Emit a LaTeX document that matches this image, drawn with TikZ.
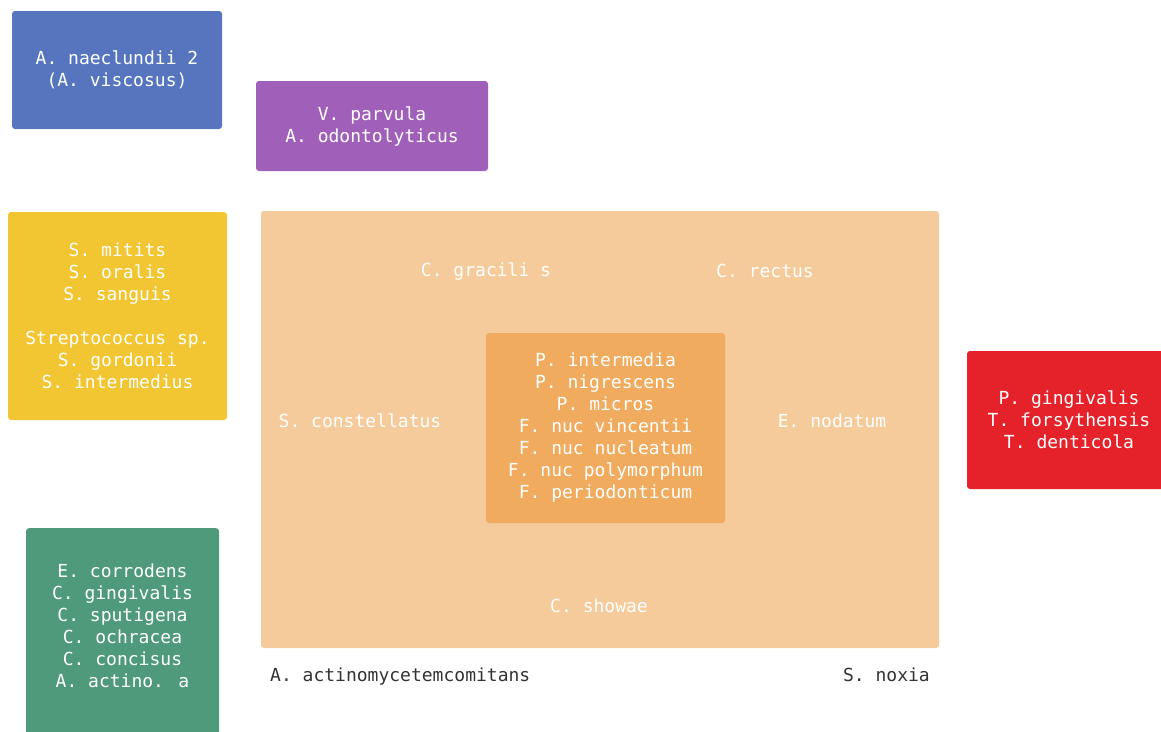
\documentclass[tikz,border=0pt]{standalone}
\usepackage{fontspec}
\newfontfamily\bugfont{DejaVu Sans Mono}
\definecolor{earlyblue}{HTML}{5675BE}
\definecolor{earlypurple}{HTML}{A05FB9}
\definecolor{earlyyellow}{HTML}{F2C632}
\definecolor{earlygreen}{HTML}{4F9A7A}
\definecolor{outerorange}{HTML}{F5CB9C}
\definecolor{innerorange}{HTML}{F0AB5E}
\definecolor{latered}{HTML}{E52229}
\definecolor{freegray}{HTML}{333333}

\begin{document}
\begin{tikzpicture}[x=1pt,y=-1pt,
	box/.style={rounded corners=3pt, align=center, text=white, inner sep=0pt},
	bug/.style={text=white, inner sep=0pt},
	free/.style={text=freegray, inner sep=0pt}]
	\bugfont\fontsize{18}{22}\selectfont
	\useasboundingbox (0,0) rectangle (1161,731);
	\clip (0,0) rectangle (1161,731);

	% early colonisers
	\node[box, fill=earlyblue, minimum width=210pt, minimum height=118pt] (blue) at (117,70) {A. naeclundii 2\\(A. viscosus)};
	\node[box, fill=earlypurple, minimum width=232pt, minimum height=90pt] (purple) at (372,126) {V. parvula\\A. odontolyticus};
	\node[box, fill=earlyyellow, minimum width=219pt, minimum height=208pt] (yellow) at (117.5,316) {S. mitits\\S. oralis\\S. sanguis\\[22pt]Streptococcus sp.\\S. gordonii\\S. intermedius};
	\node[box, fill=earlygreen, minimum width=193pt, minimum height=220pt, anchor=north] (green) at (122.5,528) {};
	\node[bug] (greentxt) at (122.5,628) {\begin{tabular}{@{}c@{}}E. corrodens\\C. gingivalis\\C. sputigena\\C. ochracea\\C. concisus\\A. actino. a\end{tabular}};

	% bridging and late colonisers
	\node[box, fill=outerorange, minimum width=678pt, minimum height=437pt] (outer) at (600,429.5) {};
	\node[box, fill=innerorange, minimum width=239pt, minimum height=190pt] (inner) at (605.5,428) {P. intermedia\\P. nigrescens\\P. micros\\F. nuc vincentii\\F. nuc nucleatum\\F. nuc polymorphum\\F. periodonticum};
	\node[bug] (gracilis) at (486,272) {C. gracili s};
	\node[bug] (rectus) at (765,271) {C. rectus};
	\node[bug] (constell) at (360,421) {S. constellatus};
	\node[bug] (nodatum) at (832,421) {E. nodatum};
	\node[bug] (showae) at (599,606) {C. showae};
	\node[box, fill=latered, minimum width=204pt, minimum height=138pt] (red) at (1069,420) {P. gingivalis\\T. forsythensis\\T. denticola};

	\node[free, anchor=west] (aact) at (270,677) {A. actinomycetemcomitans};
	\node[free, anchor=east] (noxia) at (930,675) {S. noxia};
\end{tikzpicture}
\end{document}
